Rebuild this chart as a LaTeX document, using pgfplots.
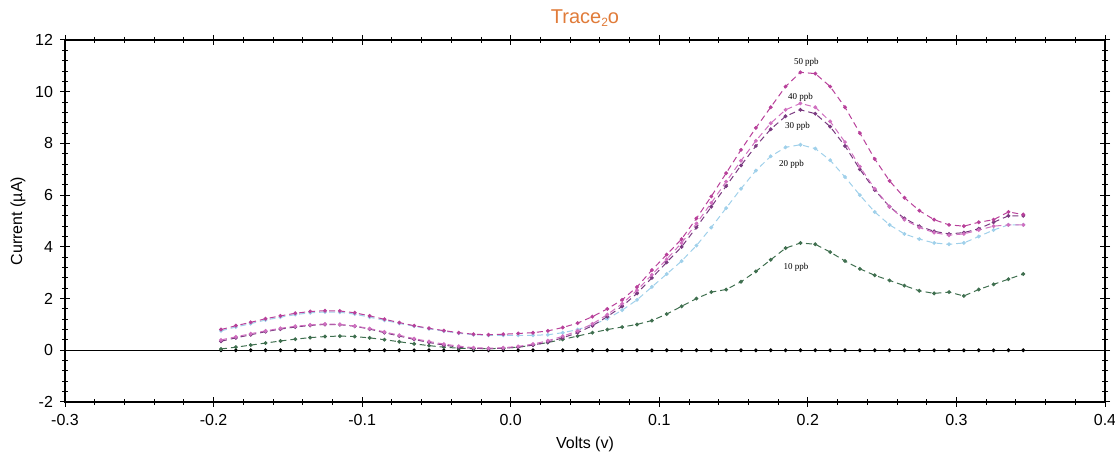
\documentclass[border=0pt]{standalone}
\usepackage{pgfplots}
\pgfplotsset{compat=1.18}
\usepackage{pgfplotstable}
\usepackage{fontspec}
\setmainfont{Liberation Sans}
\newfontfamily\serifsmall{Liberation Serif}

\definecolor{cfifty}{HTML}{B8409A}
\definecolor{cforty}{HTML}{D070C0}
\definecolor{cthirty}{HTML}{7A3A80}
\definecolor{ctwenty}{HTML}{9FD0EA}
\definecolor{cten}{HTML}{3F6F4F}
\definecolor{trace}{HTML}{E07B39}

% x  0ppb 10ppb 20ppb 30ppb 40ppb 50ppb
\pgfplotstableread{
x      p0  p10   p20   p30   p40   p50
-0.195 0   0.05  0.75  0.35  0.40  0.80
-0.185 0   0.12  0.90  0.48  0.52  0.95
-0.175 0   0.20  1.03  0.60  0.64  1.08
-0.165 0   0.28  1.17  0.72  0.75  1.22
-0.155 0   0.36  1.28  0.82  0.85  1.33
-0.145 0   0.43  1.38  0.90  0.93  1.43
-0.135 0   0.49  1.45  0.96  0.98  1.50
-0.125 0   0.53  1.48  1.00  1.02  1.53
-0.115 0   0.55  1.47  0.99  1.00  1.52
-0.105 0   0.53  1.40  0.93  0.94  1.45
-0.095 0   0.48  1.28  0.82  0.84  1.33
-0.085 0   0.41  1.16  0.68  0.71  1.20
-0.075 0   0.33  1.04  0.55  0.58  1.07
-0.065 0   0.25  0.93  0.42  0.45  0.95
-0.055 0   0.18  0.83  0.30  0.34  0.85
-0.045 0   0.12  0.74  0.20  0.24  0.76
-0.035 0   0.08  0.66  0.12  0.16  0.68
-0.025 0   0.06  0.60  0.08  0.10  0.62
-0.015 0   0.06  0.58  0.06  0.08  0.60
-0.005 0   0.08  0.58  0.08  0.10  0.62
0.005  0   0.12  0.58  0.12  0.15  0.65
0.015  0   0.20  0.58  0.20  0.24  0.68
0.025  0   0.30  0.60  0.32  0.37  0.75
0.035  0   0.42  0.68  0.48  0.54  0.88
0.045  0   0.55  0.80  0.68  0.75  1.05
0.055  0   0.68  0.98  0.95  1.02  1.30
0.065  0   0.80  1.22  1.30  1.38  1.60
0.075  0   0.90  1.55  1.70  1.80  1.95
0.085  0   1.00  1.95  2.20  2.32  2.45
0.095  0   1.15  2.45  2.80  2.92  3.10
0.105  0   1.40  2.95  3.40  3.52  3.70
0.115  0   1.70  3.45  4.00  4.15  4.30
0.125  0   2.00  4.05  4.75  4.90  5.10
0.135  0   2.25  4.75  5.55  5.70  5.95
0.145  0   2.35  5.50  6.35  6.52  6.85
0.155  0   2.65  6.25  7.15  7.33  7.75
0.165  0   3.05  6.95  7.90  8.10  8.60
0.175  0   3.50  7.50  8.55  8.78  9.40
0.185  0   3.95  7.85  9.05  9.30  10.20
0.195  0   4.15  7.95  9.30  9.55  10.75
0.205  0   4.10  7.80  9.15  9.40  10.70
0.215  0   3.80  7.35  8.65  8.85  10.20
0.225  0   3.45  6.70  7.90  8.05  9.40
0.235  0   3.15  6.00  7.00  7.10  8.40
0.245  0   2.90  5.35  6.20  6.25  7.40
0.255  0   2.70  4.85  5.55  5.55  6.55
0.265  0   2.50  4.50  5.10  5.05  5.90
0.275  0   2.30  4.30  4.80  4.75  5.40
0.285  0   2.20  4.15  4.60  4.55  5.05
0.295  0   2.25  4.10  4.50  4.45  4.85
0.305  0   2.10  4.15  4.55  4.50  4.80
0.315  0   2.35  4.40  4.70  4.65  4.95
0.325  0   2.55  4.65  4.95  4.80  5.05
0.335  0   2.75  4.85  5.20  4.85  5.35
0.345  0   2.95  4.85  5.20  4.85  5.25
}\datatable

\begin{document}
\begin{tikzpicture}
\begin{axis}[
  name=ax,
  scale only axis,
  width=520pt, height=181pt,
  xmin=-0.3, xmax=0.4, ymin=-2, ymax=12,
  xtick={-0.3,-0.2,...,0.4},
  ytick={-2,0,...,12},
  minor x tick num=4,
  minor y tick num=4,
  tick align=center,
  major tick length=5pt,
  minor tick length=3pt,
  tick style={black, line width=0.5pt},
  axis line style={black, line width=0.6pt},
  xticklabel style={/pgf/number format/.cd, fixed, fixed zerofill, precision=1},
  /pgf/number format/assume math mode=true,
  ticklabel style={font=\fontsize{8}{9}\selectfont, text=black},
  xlabel={Volts (v)},
  ylabel={Current (µA)},
  label style={font=\fontsize{8}{9}\selectfont, text=black},
  xlabel style={yshift=1pt},
  ylabel style={yshift=-2pt},
  title={\textcolor{trace}{Trace\raisebox{-0.35ex}{\fontsize{6}{6}\selectfont 2}o}},
  title style={font=\fontsize{10}{11}\selectfont, yshift=-3pt},
  every axis plot/.append style={line width=0.5pt, mark=*, mark size=0.7pt},
]
\draw[black, line width=0.6pt] (axis cs:-0.3,0) -- (axis cs:0.4,0);
\addplot[black, densely dotted, mark options={solid}] table[x=x, y=p0] {\datatable};
\addplot[cten, densely dashed, mark options={solid}] table[x=x, y=p10] {\datatable};
\addplot[ctwenty, densely dashed, mark options={solid}] table[x=x, y=p20] {\datatable};
\addplot[cthirty, densely dashed, mark options={solid}] table[x=x, y=p30] {\datatable};
\addplot[cforty, densely dashed, mark options={solid}] table[x=x, y=p40] {\datatable};
\addplot[cfifty, densely dashed, mark options={solid}] table[x=x, y=p50] {\datatable};
\node[font=\serifsmall\fontsize{4.5}{5}\selectfont] at (axis cs:0.199,11.15) {50 ppb};
\node[font=\serifsmall\fontsize{4.5}{5}\selectfont] at (axis cs:0.195,9.8) {40 ppb};
\node[font=\serifsmall\fontsize{4.5}{5}\selectfont] at (axis cs:0.193,8.65) {30 ppb};
\node[font=\serifsmall\fontsize{4.5}{5}\selectfont] at (axis cs:0.189,7.2) {20 ppb};
\node[font=\serifsmall\fontsize{4.5}{5}\selectfont] at (axis cs:0.192,3.2) {10 ppb};
\end{axis}
\pgfresetboundingbox
\path ([shift={(-32.5pt,-28pt)}]ax.south west) rectangle ([shift={(5pt,20pt)}]ax.north east);
\end{tikzpicture}
\end{document}
